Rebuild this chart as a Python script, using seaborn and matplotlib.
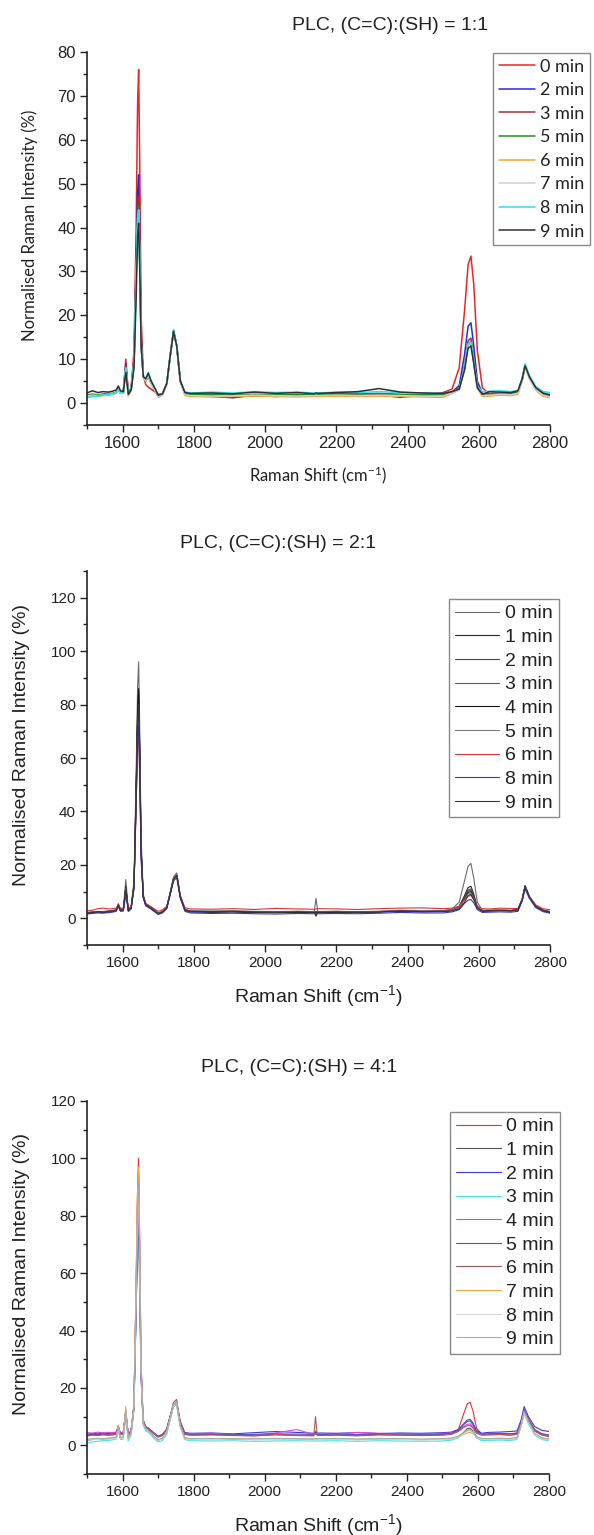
import numpy as np
import matplotlib
matplotlib.use("Agg")
import matplotlib.pyplot as plt
from matplotlib.ticker import MultipleLocator
import seaborn as sns

# ---------------- data ----------------
WAVENUMBER = [1500, 1515, 1530, 1545, 1560, 1572, 1582, 1588, 1594, 1602, 1609, 1616, 1624, 1632,
              1638, 1642, 1645, 1648, 1652, 1658, 1665, 1672, 1680, 1690, 1700, 1712, 1724, 1734,
              1743, 1752, 1762, 1775, 1790, 1850, 1910, 1970, 2030, 2090, 2138, 2143, 2148, 2200,
              2260, 2320, 2380, 2440, 2500, 2525, 2545, 2560, 2570, 2578, 2586, 2596, 2610, 2630,
              2660, 2690, 2710, 2722, 2730, 2742, 2760, 2780, 2800]

# Panel 1: (C=C):(SH) = 1:1
P1_LABELS = ["0 min", "2 min", "3 min", "5 min", "6 min", "7 min", "8 min", "9 min"]
P1_0 = [1.8, 2.0, 1.7, 1.9, 2.0, 2.1, 2.4, 3.0, 2.2, 2.5, 10.0, 2.2, 3.5, 12.0, 40.0, 68.0, 76.0, 55.0, 20.0, 6.5, 4.2, 3.6, 3.2, 2.6, 2.0, 2.0, 4.3, 11.0, 16.5, 13.0, 5.0, 2.0, 1.8, 1.7, 1.9, 1.6, 1.8, 1.7, 1.8, 1.9, 1.8, 1.7, 2.0, 1.9, 1.8, 1.7, 2.4, 3.2, 8.0, 21.0, 31.5, 33.5, 27.0, 12.0, 3.5, 2.0, 2.0, 2.0, 2.5, 5.5, 8.5, 6.0, 3.3, 2.0, 1.6]
P1_2 = [1.6, 1.8, 1.7, 1.9, 2.0, 2.0, 2.3, 3.2, 2.3, 2.4, 9.0, 2.1, 3.3, 10.0, 32.0, 48.0, 52.0, 38.0, 15.0, 6.0, 5.0, 6.0, 4.5, 3.0, 1.7, 2.0, 4.4, 11.0, 16.4, 13.0, 5.0, 2.0, 1.7, 1.5, 1.2, 1.8, 1.5, 1.7, 1.6, 1.7, 1.6, 1.8, 1.7, 1.9, 1.3, 1.8, 1.9, 2.5, 4.0, 11.0, 17.5, 18.3, 13.0, 5.0, 2.2, 2.0, 2.2, 2.1, 2.4, 5.4, 8.6, 6.0, 3.3, 2.0, 1.5]
P1_3 = [1.7, 1.9, 1.8, 2.0, 2.1, 2.1, 2.4, 3.4, 2.4, 2.5, 8.5, 2.1, 3.2, 9.5, 30.0, 44.0, 47.0, 35.0, 14.0, 6.0, 5.2, 6.3, 4.7, 3.2, 1.8, 2.1, 4.4, 11.0, 16.4, 13.0, 5.0, 2.1, 1.9, 1.8, 1.7, 1.9, 1.8, 2.0, 1.7, 1.8, 1.9, 2.2, 2.1, 2.0, 1.9, 1.8, 2.0, 2.6, 3.4, 8.5, 14.2, 14.8, 10.0, 4.0, 2.0, 2.2, 2.3, 2.2, 2.5, 5.5, 8.4, 6.0, 3.3, 2.0, 1.6]
P1_5 = [1.8, 2.0, 1.9, 2.0, 2.2, 2.2, 2.5, 3.5, 2.5, 2.4, 8.0, 2.0, 3.0, 9.0, 29.0, 42.0, 45.0, 33.0, 13.5, 6.0, 5.3, 6.5, 4.8, 3.3, 1.8, 2.1, 4.5, 11.0, 16.5, 13.0, 5.0, 2.1, 1.9, 2.0, 1.8, 2.0, 1.9, 1.9, 2.0, 1.8, 1.9, 2.0, 2.1, 2.2, 2.0, 1.9, 2.0, 2.5, 3.2, 8.0, 13.5, 14.0, 9.5, 3.6, 1.6, 1.8, 2.2, 2.0, 2.4, 5.4, 8.4, 5.8, 3.2, 1.9, 1.6]
P1_6 = [1.4, 1.6, 1.5, 1.7, 1.8, 1.9, 2.2, 3.0, 2.2, 2.2, 7.8, 1.6, 2.8, 9.0, 28.0, 40.0, 43.0, 32.0, 13.0, 5.8, 5.0, 6.2, 4.5, 3.0, 1.3, 1.8, 4.2, 10.8, 16.2, 12.8, 4.8, 1.7, 1.5, 1.4, 1.5, 1.6, 1.5, 1.4, 1.5, 1.6, 1.5, 1.6, 1.5, 1.6, 1.5, 1.4, 1.3, 2.2, 3.0, 7.8, 13.2, 13.6, 9.2, 3.3, 1.5, 1.6, 1.8, 1.7, 2.0, 5.0, 8.2, 5.6, 3.0, 1.6, 1.2]
P1_7 = [1.6, 1.8, 1.7, 1.8, 2.0, 2.0, 2.3, 3.2, 2.3, 2.3, 8.0, 1.8, 3.0, 9.2, 28.5, 41.0, 44.0, 32.5, 13.2, 5.9, 5.1, 6.3, 4.6, 3.1, 1.5, 1.9, 4.3, 10.9, 16.3, 12.9, 4.9, 1.9, 1.7, 1.6, 1.7, 1.8, 1.7, 1.6, 1.7, 1.8, 1.7, 1.8, 1.7, 1.8, 1.7, 1.6, 1.6, 2.3, 3.1, 8.0, 13.4, 13.8, 9.3, 3.4, 1.7, 1.8, 2.0, 1.9, 2.2, 5.2, 8.3, 5.7, 3.1, 1.8, 1.4]
P1_8 = [1.2, 1.5, 1.6, 1.8, 2.0, 2.1, 2.4, 3.4, 2.4, 2.3, 8.0, 1.9, 3.0, 9.5, 29.0, 42.0, 44.0, 33.0, 13.5, 6.2, 5.6, 7.0, 5.2, 3.4, 1.7, 2.2, 4.6, 11.2, 16.8, 13.2, 5.2, 2.6, 2.3, 2.5, 2.3, 2.6, 2.4, 2.5, 2.3, 2.4, 2.3, 2.5, 2.4, 2.6, 2.4, 2.3, 2.2, 2.6, 3.2, 8.0, 13.5, 13.8, 9.5, 3.8, 2.6, 2.7, 2.8, 2.6, 2.9, 5.8, 9.0, 6.3, 3.8, 2.6, 2.4]
P1_9 = [2.3, 2.8, 2.4, 2.6, 2.5, 2.7, 3.0, 3.9, 2.8, 2.6, 7.0, 2.0, 3.0, 8.0, 24.0, 38.0, 41.0, 31.0, 13.0, 6.0, 5.5, 6.8, 5.0, 3.5, 1.8, 2.1, 4.5, 11.0, 16.3, 13.0, 5.0, 2.4, 2.2, 2.3, 2.1, 2.5, 2.2, 2.4, 2.1, 2.3, 2.2, 2.4, 2.6, 3.3, 2.5, 2.3, 2.2, 2.6, 3.2, 7.5, 12.5, 13.0, 9.0, 3.5, 2.0, 2.6, 2.5, 2.4, 2.8, 5.5, 8.5, 6.0, 3.5, 2.3, 1.9]
P1_COLORS = ["#e8262a", "#2b2bd8", "#a83232", "#228b22", "#f5a23a", "#cfcfcf", "#22e4ee", "#303030"]

# Panel 2: (C=C):(SH) = 2:1
P2_LABELS = ["0 min", "1 min", "2 min", "3 min", "4 min", "5 min", "6 min", "8 min", "9 min"]
P2_0 = [2.2, 2.4, 2.6, 2.5, 2.8, 3.0, 3.2, 5.5, 3.3, 3.5, 14.5, 3.2, 4.5, 14.0, 55.0, 86.0, 96.0, 72.0, 30.0, 9.0, 5.5, 4.8, 4.0, 3.0, 2.0, 2.6, 4.2, 10.0, 15.5, 17.0, 8.5, 3.4, 2.8, 2.7, 2.8, 2.6, 2.5, 2.6, 2.5, 7.5, 2.5, 2.6, 2.5, 2.6, 3.0, 2.8, 2.9, 3.5, 6.0, 14.0, 19.5, 20.5, 15.0, 6.0, 3.0, 3.0, 3.1, 3.0, 3.3, 7.2, 12.2, 8.2, 4.6, 3.1, 2.5]
P2_1 = [2.0, 2.3, 2.4, 2.2, 2.5, 2.7, 3.0, 4.8, 2.9, 3.1, 12.0, 2.9, 4.0, 12.5, 48.0, 76.0, 85.0, 63.0, 26.0, 8.2, 5.0, 4.5, 3.8, 2.8, 1.8, 2.4, 4.0, 9.6, 14.8, 16.2, 8.0, 3.1, 2.5, 2.4, 2.5, 2.3, 2.2, 2.4, 2.3, 0.8, 2.3, 2.4, 2.3, 2.4, 2.7, 2.5, 2.6, 3.0, 4.5, 8.5, 11.5, 12.0, 9.0, 4.2, 2.8, 2.8, 2.9, 2.8, 3.1, 7.0, 12.0, 8.0, 4.4, 3.0, 2.3]
P2_2 = [2.1, 2.2, 2.5, 2.4, 2.5, 2.8, 3.0, 4.9, 3.0, 3.1, 11.5, 3.0, 4.0, 12.2, 46.0, 74.0, 82.0, 61.0, 25.0, 8.0, 5.0, 4.5, 3.8, 2.8, 1.7, 2.4, 4.0, 9.5, 14.6, 16.0, 8.0, 3.1, 2.6, 2.4, 2.5, 2.4, 2.3, 2.4, 2.3, 2.4, 2.3, 2.4, 2.3, 2.5, 2.7, 2.5, 2.6, 3.0, 4.3, 8.0, 10.6, 11.0, 8.5, 4.0, 2.8, 2.8, 2.9, 2.8, 3.1, 7.0, 11.8, 8.0, 4.4, 3.0, 2.3]
P2_3 = [2.0, 2.2, 2.4, 2.3, 2.6, 2.7, 3.0, 5.0, 3.0, 3.1, 11.2, 3.0, 4.0, 12.0, 45.0, 72.0, 80.0, 60.0, 25.0, 8.0, 5.0, 4.6, 3.8, 2.8, 1.8, 2.5, 4.0, 9.6, 14.8, 16.3, 8.0, 3.2, 2.6, 2.5, 2.6, 2.4, 2.3, 2.5, 2.4, 2.4, 2.4, 2.5, 2.3, 2.5, 2.8, 2.6, 2.7, 3.0, 4.2, 7.6, 10.2, 10.5, 8.0, 4.0, 2.8, 2.9, 3.0, 2.9, 3.2, 7.0, 11.9, 8.0, 4.5, 3.0, 2.4]
P2_4 = [1.9, 2.1, 2.3, 2.2, 2.4, 2.6, 2.9, 4.8, 2.9, 3.0, 11.0, 2.9, 3.9, 12.5, 49.0, 77.0, 86.0, 64.0, 26.0, 8.2, 4.9, 4.4, 3.7, 2.7, 1.7, 2.3, 3.9, 9.4, 14.6, 16.1, 7.9, 3.0, 2.4, 2.3, 2.4, 2.2, 2.1, 2.3, 2.2, 2.3, 2.2, 2.3, 2.2, 2.4, 2.7, 2.5, 2.5, 2.9, 4.0, 7.3, 9.7, 10.0, 7.8, 3.9, 2.7, 2.8, 2.9, 2.8, 3.1, 7.0, 12.1, 8.0, 4.4, 2.9, 2.2]
P2_5 = [2.1, 2.3, 2.5, 2.4, 2.6, 2.8, 3.1, 5.0, 3.1, 3.2, 11.0, 3.0, 4.1, 12.0, 44.0, 70.0, 78.0, 58.0, 24.0, 7.8, 5.0, 4.6, 3.9, 2.9, 1.9, 2.5, 4.1, 9.6, 14.8, 16.4, 8.1, 3.2, 2.7, 2.6, 2.6, 2.5, 2.4, 2.6, 2.5, 2.5, 2.5, 2.6, 2.4, 2.6, 2.9, 2.6, 2.7, 3.0, 4.0, 7.0, 9.2, 9.5, 7.5, 3.9, 2.9, 3.0, 3.0, 2.9, 3.2, 7.0, 11.8, 8.0, 4.5, 3.1, 2.5]
P2_6 = [2.8, 3.0, 3.6, 3.8, 3.5, 3.6, 3.8, 5.2, 3.7, 3.8, 10.0, 3.5, 4.5, 11.5, 42.0, 64.0, 70.0, 52.0, 22.0, 8.0, 5.5, 5.0, 4.3, 3.4, 2.6, 3.2, 4.5, 9.8, 15.0, 16.0, 8.5, 4.0, 3.5, 3.4, 3.6, 3.3, 3.7, 3.5, 3.4, 3.5, 3.6, 3.5, 3.3, 3.6, 3.8, 3.9, 3.6, 3.8, 4.5, 7.0, 8.3, 8.5, 7.0, 4.5, 3.6, 3.5, 3.8, 3.6, 3.7, 7.2, 11.5, 8.2, 5.0, 3.6, 3.2]
P2_8 = [1.6, 1.8, 2.0, 1.9, 2.1, 2.3, 2.6, 4.5, 2.6, 2.7, 9.0, 2.5, 3.5, 11.0, 43.0, 66.0, 72.0, 54.0, 22.0, 7.5, 4.6, 4.1, 3.4, 2.4, 1.4, 2.0, 3.6, 9.0, 14.0, 15.2, 7.5, 2.6, 2.0, 1.8, 1.9, 1.7, 1.6, 1.8, 1.7, 1.8, 1.7, 1.8, 1.7, 1.9, 2.2, 2.0, 2.0, 2.4, 3.2, 5.6, 6.8, 7.0, 5.8, 3.2, 2.2, 2.3, 2.4, 2.3, 2.6, 6.5, 11.0, 7.5, 4.0, 2.5, 1.9]
P2_9 = [2.0, 2.2, 2.5, 2.3, 2.6, 2.8, 3.0, 5.0, 3.0, 3.2, 11.0, 3.0, 4.0, 12.0, 45.0, 72.0, 80.0, 60.0, 25.0, 8.0, 5.0, 4.5, 3.8, 2.8, 1.8, 2.4, 4.0, 9.5, 14.5, 16.0, 8.0, 3.2, 2.6, 2.5, 2.6, 2.4, 2.3, 2.4, 2.3, 2.4, 2.3, 2.4, 2.3, 2.4, 2.8, 2.5, 2.6, 2.8, 3.5, 6.0, 8.5, 9.0, 7.0, 3.8, 2.8, 2.9, 3.0, 2.9, 3.2, 7.0, 12.0, 8.0, 4.5, 3.0, 2.4]
P2_COLORS = ["#6a6a6a", "#262626", "#4a4a4a", "#5a5a5a", "#151515", "#7a7a7a", "#e03434", "#3434cc", "#363636"]

# Panel 3: (C=C):(SH) = 4:1
P3_LABELS = ["0 min", "1 min", "2 min", "3 min", "4 min", "5 min", "6 min", "7 min", "8 min", "9 min"]
P3_0 = [3.2, 3.8, 3.5, 3.9, 3.6, 3.8, 4.0, 6.5, 3.8, 4.0, 12.0, 3.5, 5.0, 14.0, 55.0, 88.0, 100.0, 75.0, 30.0, 9.0, 6.5, 6.0, 5.0, 4.0, 3.0, 3.5, 5.5, 10.0, 14.0, 15.0, 8.0, 4.0, 3.6, 3.8, 3.5, 3.3, 3.9, 3.5, 3.4, 5.0, 3.5, 3.7, 3.4, 3.8, 3.6, 3.5, 3.8, 4.0, 5.5, 11.0, 14.5, 15.0, 12.0, 6.0, 4.0, 3.8, 3.9, 3.6, 4.0, 8.0, 12.0, 9.0, 5.0, 3.6, 3.0]
P3_1 = [1.8, 2.0, 2.2, 2.1, 2.3, 2.4, 2.6, 5.5, 2.5, 2.7, 11.0, 2.4, 4.0, 12.5, 48.0, 77.0, 86.0, 64.0, 26.0, 7.5, 5.5, 5.0, 4.0, 2.8, 1.8, 2.3, 4.2, 9.0, 13.5, 14.5, 7.0, 2.6, 2.2, 2.1, 2.2, 2.0, 2.1, 2.0, 2.1, 2.2, 2.1, 2.2, 2.0, 2.2, 2.1, 2.0, 2.1, 2.3, 3.0, 4.5, 5.8, 6.0, 5.0, 3.0, 2.2, 2.1, 2.3, 2.1, 2.6, 7.0, 11.5, 8.0, 4.0, 2.5, 2.0]
P3_2 = [3.8, 4.2, 4.0, 4.3, 4.1, 4.4, 4.5, 6.5, 4.2, 4.4, 11.5, 3.8, 5.0, 13.0, 46.0, 71.0, 79.0, 60.0, 25.0, 8.5, 6.5, 6.0, 5.2, 4.2, 3.2, 3.8, 5.6, 10.0, 14.0, 15.0, 8.5, 4.5, 4.2, 4.3, 4.0, 4.4, 4.8, 4.5, 4.2, 4.4, 4.3, 4.2, 4.4, 4.1, 4.3, 4.2, 4.4, 4.6, 5.5, 7.5, 8.8, 9.0, 7.8, 5.2, 4.2, 4.5, 4.6, 4.8, 5.0, 9.0, 13.5, 10.0, 6.5, 5.2, 4.8]
P3_3 = [0.8, 1.2, 1.4, 1.6, 1.7, 1.9, 2.2, 5.0, 2.0, 2.2, 10.5, 1.5, 3.5, 12.0, 45.0, 70.0, 78.0, 58.0, 24.0, 7.0, 5.0, 4.6, 3.6, 2.2, 1.2, 1.6, 3.8, 8.8, 13.5, 14.2, 6.5, 2.0, 1.6, 1.5, 1.6, 1.4, 1.5, 1.6, 1.5, 1.6, 1.5, 1.6, 1.4, 1.6, 1.5, 1.4, 1.5, 1.8, 2.6, 4.2, 5.3, 5.5, 4.6, 2.6, 1.6, 1.7, 1.8, 1.7, 2.0, 6.8, 11.0, 7.5, 3.5, 2.0, 1.6]
P3_4 = [4.5, 4.2, 4.6, 4.3, 4.5, 4.4, 4.6, 6.8, 4.3, 4.5, 11.8, 3.9, 5.2, 13.5, 50.0, 78.0, 86.0, 64.0, 26.0, 8.5, 6.5, 6.0, 5.0, 4.0, 3.0, 3.7, 5.5, 10.0, 14.2, 15.2, 8.2, 4.2, 4.0, 4.2, 3.8, 3.6, 4.3, 5.5, 3.8, 4.0, 3.9, 3.8, 4.5, 4.2, 4.0, 3.9, 4.1, 4.3, 5.0, 6.5, 7.3, 7.5, 6.5, 4.5, 3.9, 4.0, 4.2, 4.0, 4.3, 8.0, 12.0, 9.0, 5.2, 4.0, 3.6]
P3_5 = [3.6, 3.9, 3.7, 4.0, 3.8, 4.0, 4.2, 6.3, 4.0, 4.2, 11.2, 3.7, 4.8, 12.8, 45.0, 70.0, 78.0, 58.0, 24.0, 8.2, 6.2, 5.8, 4.9, 3.9, 3.0, 3.6, 5.4, 9.8, 14.0, 15.0, 8.0, 4.0, 3.8, 3.9, 3.7, 3.8, 4.0, 3.9, 3.8, 3.9, 3.8, 3.9, 3.7, 4.0, 3.9, 3.8, 3.9, 4.2, 5.2, 7.2, 8.3, 8.5, 7.2, 4.8, 3.9, 4.0, 4.1, 4.0, 4.2, 8.5, 12.5, 9.2, 5.5, 4.0, 3.5]
P3_6 = [3.3, 3.5, 3.4, 3.6, 3.5, 3.6, 3.8, 6.2, 3.7, 3.9, 12.0, 3.4, 4.8, 14.0, 53.0, 84.0, 95.0, 71.0, 28.0, 8.8, 6.3, 5.8, 4.8, 3.8, 2.8, 3.4, 5.4, 10.2, 14.8, 16.0, 8.3, 3.8, 3.5, 3.6, 3.4, 3.3, 3.6, 3.4, 3.3, 10.0, 3.4, 3.5, 3.3, 3.6, 3.5, 3.4, 3.5, 3.8, 4.8, 6.2, 6.8, 7.0, 6.0, 4.2, 3.5, 3.6, 3.7, 3.5, 3.8, 8.0, 12.0, 9.0, 5.0, 3.6, 3.2]
P3_7 = [2.0, 2.2, 2.3, 2.2, 2.4, 2.5, 2.7, 7.0, 2.6, 2.8, 13.5, 2.4, 4.2, 14.5, 55.0, 87.0, 97.0, 72.0, 28.0, 7.8, 5.8, 5.2, 4.2, 2.9, 1.9, 2.3, 4.4, 9.5, 14.0, 15.0, 7.0, 2.5, 2.1, 2.0, 2.2, 2.1, 2.0, 2.2, 2.1, 2.2, 2.1, 2.2, 2.0, 2.2, 2.1, 2.0, 2.1, 2.3, 2.9, 3.8, 4.3, 4.5, 4.0, 2.8, 2.2, 2.1, 2.3, 2.2, 2.5, 7.2, 11.5, 8.2, 4.0, 2.5, 2.1]
P3_8 = [1.9, 2.1, 2.0, 2.2, 2.1, 2.3, 2.5, 6.0, 2.4, 2.6, 12.0, 2.2, 4.0, 13.5, 51.0, 81.0, 90.0, 67.0, 27.0, 7.5, 5.5, 5.0, 4.0, 2.7, 1.8, 2.2, 4.2, 9.2, 13.8, 14.8, 6.8, 2.3, 2.0, 2.1, 1.9, 2.0, 2.1, 2.0, 1.9, 2.0, 2.0, 2.1, 1.9, 2.0, 2.1, 1.9, 2.0, 2.2, 2.9, 4.0, 4.8, 5.0, 4.3, 2.8, 2.1, 2.0, 2.2, 2.1, 2.4, 7.0, 11.3, 8.0, 3.8, 2.3, 1.9]
P3_9 = [2.1, 2.3, 2.4, 2.3, 2.5, 2.6, 2.8, 6.2, 2.7, 2.9, 12.2, 2.5, 4.2, 13.8, 52.0, 83.0, 92.0, 69.0, 27.5, 7.8, 5.8, 5.2, 4.2, 2.9, 2.0, 2.4, 4.4, 9.4, 14.0, 15.0, 7.0, 2.6, 2.3, 2.4, 2.2, 2.3, 2.4, 2.3, 2.2, 2.3, 2.3, 2.4, 2.2, 2.3, 2.4, 2.2, 2.3, 2.5, 3.2, 4.4, 5.3, 5.5, 4.7, 3.0, 2.4, 2.3, 2.5, 2.4, 2.7, 7.3, 11.8, 8.3, 4.2, 2.6, 2.2]
P3_COLORS = ["#e83232", "#555555", "#3a3ae0", "#44e2ea", "#e044e0", "#5555b0", "#a85a5a", "#f2a444", "#d8d8d8", "#aaaaaa"]

TITLES = ["PLC, (C=C):(SH) = 1:1", "PLC, (C=C):(SH) = 2:1", "PLC, (C=C):(SH) = 4:1"]
XLABEL = "Raman Shift (cm$^{-1}$)"
YLABEL = "Normalised Raman Intensity (%)"

# ---------------- style ----------------
sns.set_style("ticks")
plt.rcParams['font.family'] = ['Liberation Sans', 'DejaVu Sans']
plt.rcParams['mathtext.default'] = 'regular'

W, H = 594, 1535
fig = plt.figure(figsize=(W / 100, H / 100), dpi=100)


def ax_rect(left, right, top, bottom):
    return [left / W, 1 - bottom / H, (right - left) / W, (bottom - top) / H]


panels = [
    dict(rect=ax_rect(87, 550, 52, 425), ylim=(-5, 80), ymaj=10, ymin=5,
         series=[P1_0, P1_2, P1_3, P1_5, P1_6, P1_7, P1_8, P1_9], labels=P1_LABELS, colors=P1_COLORS,
         lw=1.1, title_xy=(390, 25), ylab_x=-0.123, tick_fs=12, lab_font=['Lato', 'DejaVu Sans'],
         lab_fs=12, leg_fs=13, leg_font=['Lato', 'DejaVu Sans'], leg_anchor=(1.0864, 0.997),
         leg_ls=0.42, leg_hl=2.0),
    dict(rect=ax_rect(87, 550, 571, 945), ylim=(-10, 130), ymaj=20, ymin=10,
         series=[P2_0, P2_1, P2_2, P2_3, P2_4, P2_5, P2_6, P2_8, P2_9], labels=P2_LABELS, colors=P2_COLORS,
         lw=0.8, title_xy=(278, 543), ylab_x=-0.1425, tick_fs=11, lab_font=['Liberation Sans', 'DejaVu Sans'],
         lab_fs=14, leg_fs=14, leg_font=['Liberation Sans', 'DejaVu Sans'], leg_anchor=(1.019, 0.925),
         leg_ls=0.31, leg_hl=2.3),
    dict(rect=ax_rect(87, 549, 1101, 1474), ylim=(-10, 120), ymaj=20, ymin=10,
         series=[P3_0, P3_1, P3_2, P3_3, P3_4, P3_5, P3_6, P3_7, P3_8, P3_9], labels=P3_LABELS, colors=P3_COLORS,
         lw=0.8, title_xy=(299, 1068), ylab_x=-0.1425, tick_fs=11, lab_font=['Liberation Sans', 'DejaVu Sans'],
         lab_fs=14, leg_fs=14, leg_font=['Liberation Sans', 'DejaVu Sans'], leg_anchor=(1.024, 0.9705),
         leg_ls=0.31, leg_hl=2.3),
]

for i, p in enumerate(panels):
    ax = fig.add_axes(p['rect'])
    for vals, lab, col in zip(p['series'], p['labels'], p['colors']):
        sns.lineplot(x=WAVENUMBER, y=vals, ax=ax, color=col, lw=p['lw'], label=lab, estimator=None)
    ax.set_xlim(1500, 2800)
    ax.set_ylim(*p['ylim'])
    ax.xaxis.set_major_locator(MultipleLocator(200))
    ax.xaxis.set_minor_locator(MultipleLocator(100))
    ax.yaxis.set_major_locator(MultipleLocator(p['ymaj']))
    ax.yaxis.set_minor_locator(MultipleLocator(p['ymin']))
    ax.tick_params(which='major', direction='out', length=5, width=1, pad=3, labelsize=p['tick_fs'],
                   color='#222222', labelcolor='#222222')
    ax.tick_params(which='minor', direction='out', length=3, width=1, color='#222222')
    for s in ['top', 'right']:
        ax.spines[s].set_visible(False)
    for s in ['left', 'bottom']:
        ax.spines[s].set_linewidth(1.2)
        ax.spines[s].set_color('#222222')
    ax.set_xlabel(XLABEL, fontsize=p['lab_fs'], family=p['lab_font'], color='#222222', va='center')
    ax.set_ylabel(YLABEL, fontsize=p['lab_fs'], family=p['lab_font'], color='#222222', va='center')
    ax.xaxis.set_label_coords(0.5, -0.136)
    ax.yaxis.set_label_coords(p['ylab_x'], 0.535)
    fig.text(p['title_xy'][0] / W, 1 - p['title_xy'][1] / H, TITLES[i], ha='center', va='center',
             fontsize=14, color='#222222')
    leg = ax.legend(loc='upper right', bbox_to_anchor=p['leg_anchor'], borderaxespad=0,
                    frameon=True, fancybox=False, framealpha=1, edgecolor='#8a8a8a',
                    prop={'family': p['leg_font'], 'size': p['leg_fs']},
                    handlelength=p['leg_hl'], handletextpad=0.3, labelspacing=p['leg_ls'], borderpad=0.3,
                    markerfirst=True)
    leg.get_frame().set_linewidth(1.0)
    for t in leg.get_texts():
        t.set_color('#222222')

fig.savefig("out.png", dpi=100)
